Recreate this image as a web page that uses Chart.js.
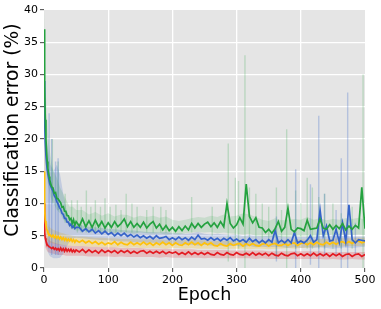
<!DOCTYPE html>
<html><head><meta charset="utf-8">
<script src="https://cdn.jsdelivr.net/npm/chart.js@4/dist/chart.umd.min.js"></script>
<style>html,body{margin:0;padding:0;background:#fff;}#wrap{width:381px;height:309px;}</style>
</head><body><div id="wrap"><canvas id="c" width="381" height="309"></canvas></div>
<script>
// Epochs at which the mean curves are sampled
const epochs = [0,1,2,3,4,5,6,7,8,9,10,12,14,16,18,20,22,24,26,28,30,32,34,36,38,40,42,44,46,48,50,55,60,65,70,75,80,85,90,95,100,105,110,115,120,125,130,135,140,145,150,155,160,165,170,175,180,185,190,195,200,205,210,215,220,225,230,235,240,245,250,255,260,265,270,275,280,285,290,295,300,305,310,315,320,325,330,335,340,345,350,355,360,365,370,375,380,385,390,395,400,405,410,415,420,425,430,435,440,445,450,455,460,465,470,475,480,485,490,495,500];

const greenMean = [37,28,23,20,18,16.5,15.5,14.8,14.2,13.7,13.2,
12.6,12.4,11.6,11.7,10.8,10.7,10.4,10.1,9.4,9.5,8.8,8.8,8.1,8.1,7.5,7.7,6.9,7.5,6.6,7.2,
6.5,7.6,6.4,7.3,6.3,7.4,6.4,7.2,6.2,7.0,
6.3,7.2,6.4,6.9,7.6,6.4,7.2,6.3,6.9,6.3,
7.1,6.2,6.8,7.2,6.2,6.8,5.9,6.6,5.8,6.3,
5.7,6.4,5.8,6.5,5.9,6.9,6.2,6.9,6.3,6.8,
7.1,6.4,7.0,6.3,7.2,6.4,10.0,6.9,6.2,6.7,
7.8,6.8,13.0,8.0,7.0,7.8,6.3,6.2,5.5,6.0,
5.4,6.1,7.2,5.7,6.3,9.3,6.0,5.6,6.2,6.1,
5.8,7.4,6.0,6.1,6.2,7.6,6.2,6.0,6.7,6.0,
6.6,6.1,6.9,5.9,6.5,6.0,6.6,6.2,12.5,6.1];

const blueMean = [29,23,19.5,17.5,16.2,15.2,14.6,14.0,13.5,13.0,12.8,
12.3,11.9,11.2,10.9,10.3,9.9,9.4,9.1,8.5,8.3,7.7,7.7,7.1,7.1,6.6,6.8,6.3,6.5,6.1,6.3,
6.3,5.7,6.1,5.6,6.0,5.4,5.8,5.3,5.7,5.2,
5.5,5.0,5.4,5.0,5.4,4.9,5.2,4.8,5.1,4.7,
5.0,4.6,4.9,4.5,5.0,4.6,4.7,4.9,4.4,4.7,
4.4,4.8,4.4,4.7,4.3,4.8,4.4,5.1,4.5,4.6,
4.3,4.7,4.3,4.6,4.2,4.6,4.3,4.7,4.2,4.5,
4.1,4.4,4.0,4.6,4.1,4.4,3.9,4.3,3.9,4.4,
4.0,5.8,3.9,4.3,3.9,4.4,3.9,5.5,3.9,4.2,
3.9,4.3,5.0,4.0,4.4,9.0,5.0,6.5,4.2,4.3,
6.0,4.0,7.0,4.1,9.8,4.4,3.9,4.4,4.3,4.2];

const yellowMean = [15,9,7.3,6.6,6.1,5.8,5.5,5.4,5.2,5.1,5.1,
4.8,5.1,4.7,5.0,4.6,4.9,4.5,4.8,4.4,4.7,4.3,4.6,4.2,4.5,4.2,4.5,4.1,4.4,4.0,4.3,
4.0,4.3,3.9,4.2,3.8,4.1,3.7,4.0,3.6,3.9,
3.7,4.1,3.6,4.0,3.7,3.6,4.0,3.6,3.9,3.6,
4.0,3.6,3.9,3.5,3.9,3.6,4.0,3.6,3.9,3.5,
3.9,3.6,3.5,3.9,3.6,4.0,3.6,3.9,3.5,3.9,
3.6,3.9,3.5,3.4,3.8,3.5,3.4,3.8,3.5,3.7,
3.8,3.4,3.8,3.5,3.8,3.5,3.4,3.7,3.8,3.4,
3.7,3.8,3.5,3.5,3.8,3.5,3.8,3.9,3.5,3.8,
3.9,3.6,3.9,3.6,4.0,3.7,3.6,4.0,3.7,4.0,
3.7,4.0,4.1,3.8,4.1,3.8,4.1,4.2,3.9,4.1];

const redMean = [10,5.5,4.6,4.2,3.9,3.6,3.5,3.4,3.3,3.3,3.2,
3.0,3.2,2.9,3.1,2.8,3.0,2.7,3.1,2.7,3.0,2.6,3.0,2.6,2.9,2.6,2.9,2.5,2.8,2.5,2.8,
2.5,2.9,2.4,2.8,2.4,2.7,2.3,2.8,2.4,2.7,
2.4,2.7,2.3,2.7,2.4,2.7,2.3,2.6,2.3,2.6,
2.7,2.3,2.6,2.3,2.6,2.3,2.6,2.2,2.5,2.3,
2.5,2.1,2.4,2.1,2.5,2.1,2.4,2.1,2.4,2.1,
2.4,2.1,2.0,2.4,2.1,2.0,2.4,2.1,2.0,2.4,
2.1,2.0,2.3,2.0,2.4,2.0,2.3,2.0,2.3,1.9,
2.3,2.0,1.9,2.3,2.0,1.9,2.2,2.3,1.9,2.2,
1.9,2.2,1.9,2.3,1.9,2.2,1.9,2.2,1.8,2.2,
1.9,2.2,1.8,2.1,2.2,1.8,2.1,2.2,1.8,2.1];

// Epochs at which the shaded spread (min/max over runs) is sampled
const bandEpochs = [0,2,4,6,8,10,15,20,25,30,35,40,45,50,60,70,80,90,100,110,120,130,140,150,160,170,180,190,200,210,220,230,240,250,260,270,280,290,300,310,320,330,340,350,360,370,380,390,400,410,420,430,440,450,460,470,480,490,500];

const greenLow = [30,19,15,13,12,11,10,9,8.5,7.5,7,6.3,6,5.8,
5.8,5.6,5.7,5.5,5.6,5.4,5.6,5.5,5.3,5.5,5.4,5.3,5.4,5.2,5.3,
5.2,5.4,5.5,5.6,5.5,5.6,5.4,5.5,5.4,5.3,
5.2,5.3,5.0,4.8,4.9,4.7,4.9,4.8,5.0,4.9,
5.0,4.9,5.1,5.0,5.2,5.1,5.2,5.1,5.2,5.1];
const greenHigh = [40,30,24,21,19,17.5,15,14,12.5,11.5,10.5,9.5,9.5,9,
9.0,8.3,8.7,8.1,8.5,8.0,8.3,8.2,7.8,8.1,7.9,8.1,7.8,8.0,7.5,
7.3,7.5,7.7,7.9,7.8,8.1,7.9,8.3,8.0,8.1,
8.5,8.3,7.9,7.5,7.3,7.7,7.4,7.5,7.6,7.5,
7.9,7.5,7.7,7.4,7.6,7.5,7.7,7.6,7.8,7.5];
const blueLow = [22,10,4,2.5,2,1.8,1.5,1.5,1.6,2.2,3.2,4.2,4.6,4.7,
4.6,4.5,4.4,4.3,4.3,4.2,4.1,4.1,4.0,4.0,3.9,3.9,3.8,3.8,3.7,
3.7,3.6,3.6,3.5,3.6,3.5,3.4,3.5,3.4,3.4,
3.3,3.4,3.2,3.3,3.2,3.3,3.2,3.1,3.2,3.1,
3.2,3.1,3.2,3.1,3.0,3.1,3.2,3.1,3.2,3.3];
const blueHigh = [29,28,20,18.5,17,16,15,16,14.5,11.5,9,7.8,7.2,6.9,
6.6,6.4,6.3,6.2,6.1,6.0,5.9,5.8,5.8,5.7,5.6,5.6,5.5,5.6,5.4,
5.4,5.3,5.4,5.6,5.3,5.2,5.3,5.2,5.1,5.2,
5.0,5.1,5.0,4.9,5.0,5.2,4.9,4.8,4.9,4.8,
4.9,4.8,5.0,4.9,5.1,4.9,5.0,4.8,4.9,4.9];
const yellowLow = [10,5.2,4.5,4.2,4.0,3.9,3.8,3.7,3.6,3.6,3.5,3.5,3.4,3.4,
3.4,3.3,3.3,3.2,3.2,3.2,3.2,3.1,3.2,3.1,3.1,3.1,3.1,3.0,3.1,
3.1,3.0,3.1,3.0,3.0,3.0,3.0,2.9,3.0,3.0,
3.0,2.9,3.0,3.0,2.9,3.0,3.0,3.1,3.0,3.1,
3.1,3.2,3.2,3.3,3.3,3.3,3.4,3.4,3.4,3.5];
const yellowHigh = [20,9.5,7.5,6.8,6.4,6.2,5.9,5.7,5.5,5.4,5.2,5.1,5.0,4.9,
4.9,4.8,4.7,4.7,4.6,4.6,4.5,4.5,4.5,4.4,4.4,4.4,4.4,4.3,4.3,
4.3,4.3,4.4,4.3,4.3,4.2,4.2,4.2,4.2,4.2,
4.2,4.2,4.2,4.2,4.3,4.3,4.3,4.4,4.4,4.4,
4.4,4.4,4.5,4.5,4.5,4.6,4.6,4.6,4.7,4.7];
const redLow = [6,3.2,2.8,2.5,2.4,2.3,2.2,2.1,2.0,2.0,1.9,1.9,1.9,1.9,
1.9,1.8,1.8,1.8,1.8,1.7,1.8,1.7,1.7,1.7,1.7,1.7,1.6,1.7,1.6,
1.6,1.6,1.6,1.6,1.5,1.6,1.5,1.5,1.5,1.5,
1.5,1.5,1.4,1.5,1.4,1.4,1.4,1.4,1.4,1.4,
1.4,1.4,1.4,1.3,1.4,1.3,1.3,1.4,1.3,1.3];
const redHigh = [14,6,5,4.6,4.3,4.2,4.0,3.8,3.7,3.6,3.5,3.5,3.4,3.4,
3.4,3.3,3.3,3.2,3.2,3.2,3.1,3.1,3.1,3.1,3.0,3.0,3.0,3.0,2.9,
2.9,2.9,2.9,2.8,2.8,2.8,2.8,2.8,2.7,2.7,
2.7,2.7,2.7,2.7,2.6,2.6,2.6,2.6,2.6,2.6,
2.6,2.6,2.6,2.5,2.5,2.5,2.5,2.5,2.5,2.5];

// Isolated single-run spikes (epoch, low end, high end)
const greenSpikeEpochs = [13,22,33,43,52,58,66,73,80,88,95,103,112,120,128,137,145,160,170,182,190,230,262,287,298,303,313,320,330,340,350,362,370,378,392,400,410,418,428,437,450,463,480,497];
const greenSpikeLow = [10,9,7,6,5.5,5.5,5.5,5.5,5.5,5.5,5.5,5.5,5.5,5.5,5.5,5.5,5.5,5.5,5.5,5.5,5.5,5.5,5,1,4,3,0,4,4,4,4,1.5,4,0,3,4,3,3,3,3,3,3,3,0];
const greenSpikeHigh = [20,16.5,11.5,10.5,10.5,9.5,12,9.5,10.5,9.5,10.8,9.5,9.8,9.0,11.5,10,9.5,9.0,9.5,9.5,9.0,11,9.5,19.3,14,13.5,33,12.5,11.5,10,9.5,12.5,9,21.5,12,10,14,12.5,11,11.5,10,8.5,9.5,30];
const blueSpikeEpochs = [8,12,18,22,362,392,415,428,437,455,463,473,485];
const blueSpikeLow = [3,2,2,2,1,0,0.5,0,2,2,0,0,2];
const blueSpikeHigh = [24,20,16.5,17,8,15.3,13,23.6,11.5,9,17,27.2,7];

const xTicks = [0,100,200,300,400,500];
const yTicks = [0,5,10,15,20,25,30,35,40];

const C = {
  green:'#24a23f', blue:'#3563c9', yellow:'#ffc10a', red:'#e31b22',
  greenBand:'rgba(36,162,63,0.15)', blueBand:'rgba(53,99,201,0.2)', yellowBand:'rgba(255,193,10,0.25)', redBand:'rgba(227,27,34,0.2)',
  greenSpike:'rgba(36,162,63,0.22)', blueSpike:'rgba(53,99,201,0.28)'
};

function pts(xs, ys){ return xs.map((x,i)=>({x:x, y:ys[i]})); }
function spikePts(es, lo, hi){ const out=[]; es.forEach((e,i)=>{ out.push({x:e,y:lo[i]},{x:e,y:hi[i]},{x:e,y:null}); }); return out; }

function band(lo, hi, color, ord){
  return [
    {data:pts(bandEpochs, lo), borderWidth:0, pointRadius:0, fill:false, order:ord, borderColor:'rgba(0,0,0,0)'},
    {data:pts(bandEpochs, hi), borderWidth:0, pointRadius:0, fill:'-1', backgroundColor:color, order:ord, borderColor:'rgba(0,0,0,0)'}
  ];
}
function line(ys, color, ord){
  return {data:pts(epochs, ys), borderColor:color, borderWidth:1.7, pointRadius:0, fill:false, order:ord, tension:0};
}

const datasets = [].concat(
  band(redLow, redHigh, C.redBand, 30),
  band(yellowLow, yellowHigh, C.yellowBand, 29),
  band(blueLow, blueHigh, C.blueBand, 28),
  band(greenLow, greenHigh, C.greenBand, 27),
  [{data:spikePts(greenSpikeEpochs, greenSpikeLow, greenSpikeHigh), borderColor:C.greenSpike, borderWidth:1.4, pointRadius:0, fill:false, spanGaps:false, order:20},
   {data:spikePts(blueSpikeEpochs, blueSpikeLow, blueSpikeHigh), borderColor:C.blueSpike, borderWidth:1.4, pointRadius:0, fill:false, spanGaps:false, order:19}],
  [line(redMean, C.red, 4), line(yellowMean, C.yellow, 3), line(blueMean, C.blue, 2), line(greenMean, C.green, 1)]
);

const bgPlugin = {id:'bg', beforeDraw(chart){
  const {ctx, chartArea:a} = chart;
  ctx.save(); ctx.fillStyle='#e5e5e5'; ctx.fillRect(a.left, a.top, a.right-a.left, a.bottom-a.top); ctx.restore();
}};

const tickFont = {family:'DejaVu Sans', size:11};
function gridColor(ctx, lo, hi){ const v = ctx.tick && ctx.tick.value; return (v===lo||v===hi) ? 'rgba(0,0,0,0)' : '#ffffff'; }

new Chart(document.getElementById('c'), {
  type:'line',
  data:{datasets:datasets},
  plugins:[bgPlugin],
  options:{
    responsive:false, animation:false, events:[],
    layout:{padding:{top:10, right:16, left:0, bottom:0}},
    plugins:{legend:{display:false}, tooltip:{enabled:false}},
    scales:{
      x:{type:'linear', min:0, max:500,
        afterBuildTicks:s=>{ s.ticks = xTicks.map(v=>({value:v})); },
        afterFit:s=>{ s.height = 41; },
        ticks:{font:tickFont, color:'#000', padding:2, maxRotation:0},
        grid:{color:c=>gridColor(c,0,500), lineWidth:1.3, tickLength:4, tickColor:'#444', tickWidth:1},
        border:{display:false},
        title:{display:true, text:'Epoch', color:'#000', font:{family:'DejaVu Sans', size:17.5}, padding:{top:0, bottom:3}}
      },
      y:{type:'linear', min:0, max:40,
        afterBuildTicks:s=>{ s.ticks = yTicks.map(v=>({value:v})); },
        afterFit:s=>{ s.width = 44; },
        ticks:{font:tickFont, color:'#000', padding:2},
        grid:{color:c=>gridColor(c,0,40), lineWidth:1.3, tickLength:4, tickColor:'#444', tickWidth:1},
        border:{display:false},
        title:{display:true, text:'   Classification error (%)', color:'#000', font:{family:'DejaVu Sans', size:18.7}, padding:{top:2, bottom:0}}
      }
    }
  }
});
</script>
</body></html>
